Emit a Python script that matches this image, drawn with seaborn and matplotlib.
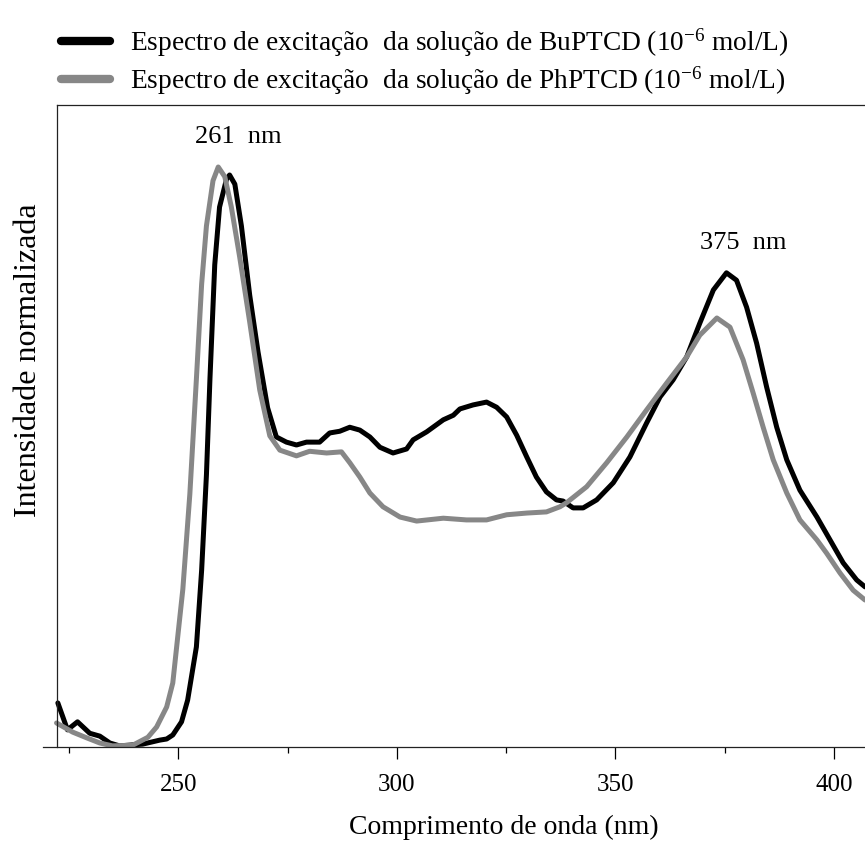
import seaborn as sns
import matplotlib.pyplot as plt
import pandas as pd

# BuPTCD excitation spectrum
bu_wl = [222.4, 224.6, 226.9, 229.7, 232.0, 234.3, 236.5, 241.8, 245.7, 247.3, 248.7,
         250.7, 252.1, 254.1, 255.3, 256.4, 257.2, 258.3, 259.4, 261.0, 261.7, 262.9,
         264.4, 266.3, 268.2, 270.4, 272.4, 274.7, 277.0, 279.3, 282.3, 284.6, 286.9,
         289.2, 291.5, 293.8, 296.1, 299.1, 302.2, 303.7, 306.8, 310.6, 312.9, 314.4,
         317.4, 320.5, 322.8, 325.1, 327.4, 329.7, 331.9, 334.2, 336.5, 338.0, 340.3,
         342.6, 345.7, 349.5, 353.3, 357.1, 360.2, 363.2, 366.3, 369.3, 372.4, 375.4,
         377.7, 380.0, 382.3, 384.6, 386.9, 389.2, 392.2, 396.1, 399.1, 402.1, 405.2, 407.1]
bu_int = [0.077, 0.030, 0.044, 0.024, 0.019, 0.007, 0.002, 0.005, 0.012, 0.014, 0.021,
          0.044, 0.082, 0.175, 0.309, 0.476, 0.643, 0.843, 0.944, 0.993, 1.000, 0.984,
          0.911, 0.790, 0.691, 0.593, 0.542, 0.533, 0.528, 0.533, 0.533, 0.549, 0.552,
          0.559, 0.554, 0.542, 0.524, 0.514, 0.521, 0.537, 0.551, 0.572, 0.580, 0.591,
          0.598, 0.603, 0.594, 0.577, 0.545, 0.507, 0.472, 0.446, 0.432, 0.430, 0.418,
          0.418, 0.432, 0.462, 0.507, 0.566, 0.612, 0.642, 0.682, 0.741, 0.799, 0.829,
          0.816, 0.769, 0.706, 0.629, 0.559, 0.502, 0.449, 0.402, 0.362, 0.322, 0.292, 0.280]

# PhPTCD excitation spectrum
ph_wl = [222.1, 225.8, 229.0, 232.0, 234.9, 239.5, 243.0, 245.0, 247.3, 248.7, 251.0,
         252.6, 254.1, 255.3, 256.4, 257.9, 259.1, 260.6, 262.1, 264.0, 266.3, 268.6,
         270.9, 273.2, 277.0, 280.0, 283.9, 287.3, 289.2, 291.5, 293.8, 296.8, 300.7,
         304.5, 310.6, 315.9, 320.5, 325.1, 329.7, 334.2, 337.3, 338.8, 343.4, 348.0,
         352.6, 357.1, 361.7, 366.3, 369.3, 373.2, 376.2, 379.2, 381.5, 383.8, 386.1,
         389.2, 392.2, 396.1, 398.3, 401.4, 404.4, 407.1]
ph_int = [0.042, 0.026, 0.016, 0.007, 0.002, 0.003, 0.017, 0.035, 0.070, 0.112, 0.276,
          0.442, 0.643, 0.809, 0.911, 0.990, 1.014, 0.997, 0.944, 0.857, 0.743, 0.624,
          0.544, 0.519, 0.509, 0.517, 0.514, 0.516, 0.497, 0.472, 0.444, 0.420, 0.402,
          0.395, 0.400, 0.397, 0.397, 0.406, 0.409, 0.411, 0.420, 0.427, 0.455, 0.497,
          0.542, 0.589, 0.636, 0.682, 0.720, 0.750, 0.734, 0.677, 0.619, 0.559, 0.502,
          0.444, 0.397, 0.362, 0.339, 0.304, 0.274, 0.257]

labels = ["Espectro de excitação  da solução de BuPTCD (10$^{-6}$ mol/L)",
          "Espectro de excitação  da solução de PhPTCD (10$^{-6}$ mol/L)"]
peak_labels = ["261  nm", "375  nm"]
peak_pos = [(263.6, 1.066), (379.2, 0.881)]

df = pd.concat([
    pd.DataFrame({"wl": bu_wl, "I": bu_int, "amostra": labels[0]}),
    pd.DataFrame({"wl": ph_wl, "I": ph_int, "amostra": labels[1]}),
])

sns.set_style("white")
plt.rcParams["font.family"] = ["Liberation Serif", "DejaVu Serif"]
plt.rcParams["mathtext.fontset"] = "custom"
plt.rcParams["mathtext.rm"] = "Liberation Serif"
plt.rcParams["mathtext.it"] = "Liberation Serif:italic"
plt.rcParams["text.color"] = "black"
plt.rcParams["axes.labelcolor"] = "black"
plt.rcParams["xtick.color"] = "black"

fig = plt.figure(figsize=(8.65, 8.41), dpi=100)
ax = fig.add_axes([43 / 865, 1 - 747 / 841, 822 / 865, 642 / 841])

sns.lineplot(data=df, x="wl", y="I", hue="amostra", palette=["black", "#878787"],
             estimator=None, sort=False, linewidth=3.6, ax=ax)

ax.set_xlim(219.0, 407.1)
ax.set_ylim(0, 642 / 572)

# spines: left axis sits at ~222 nm, top line starts there too
for s in ["left", "top", "bottom"]:
    ax.spines[s].set_linewidth(0.9)
    ax.spines[s].set_color("#222222")
ax.spines["right"].set_visible(False)
ax.spines["left"].set_position(("data", 222.1))
ax.spines["top"].set_bounds(222.1, 407.1)

ax.set_xticks([250, 300, 350, 400])
ax.set_xticks([225, 275, 325, 375], minor=True)
ax.set_yticks([])
ax.tick_params(axis="x", which="major", direction="out", length=8.5, width=0.9,
               labelsize=18, pad=11, bottom=True)
ax.tick_params(axis="x", which="minor", direction="out", length=4.3, width=0.9, bottom=True)

ax.set_xlabel("Comprimento de onda (nm)", fontsize=20)
ax.xaxis.set_label_coords(0.561, -0.106)
ax.set_ylabel("Intensidade normalizada", fontsize=23)
ax.yaxis.set_label_coords(0.0, 0.603)

for txt, (x, y) in zip(peak_labels, peak_pos):
    ax.text(x, y, txt, fontsize=19, ha="center", va="center")

leg = ax.legend(loc="upper left", bbox_to_anchor=(36 / 865, 1 - 2 / 841),
                bbox_transform=fig.transFigure, frameon=False, fontsize=19.7,
                handlelength=1.8, handletextpad=0.75, labelspacing=0.18, title=None)
for ln in leg.get_lines():
    ln.set_linewidth(6)

fig.savefig("out.png", dpi=100)
